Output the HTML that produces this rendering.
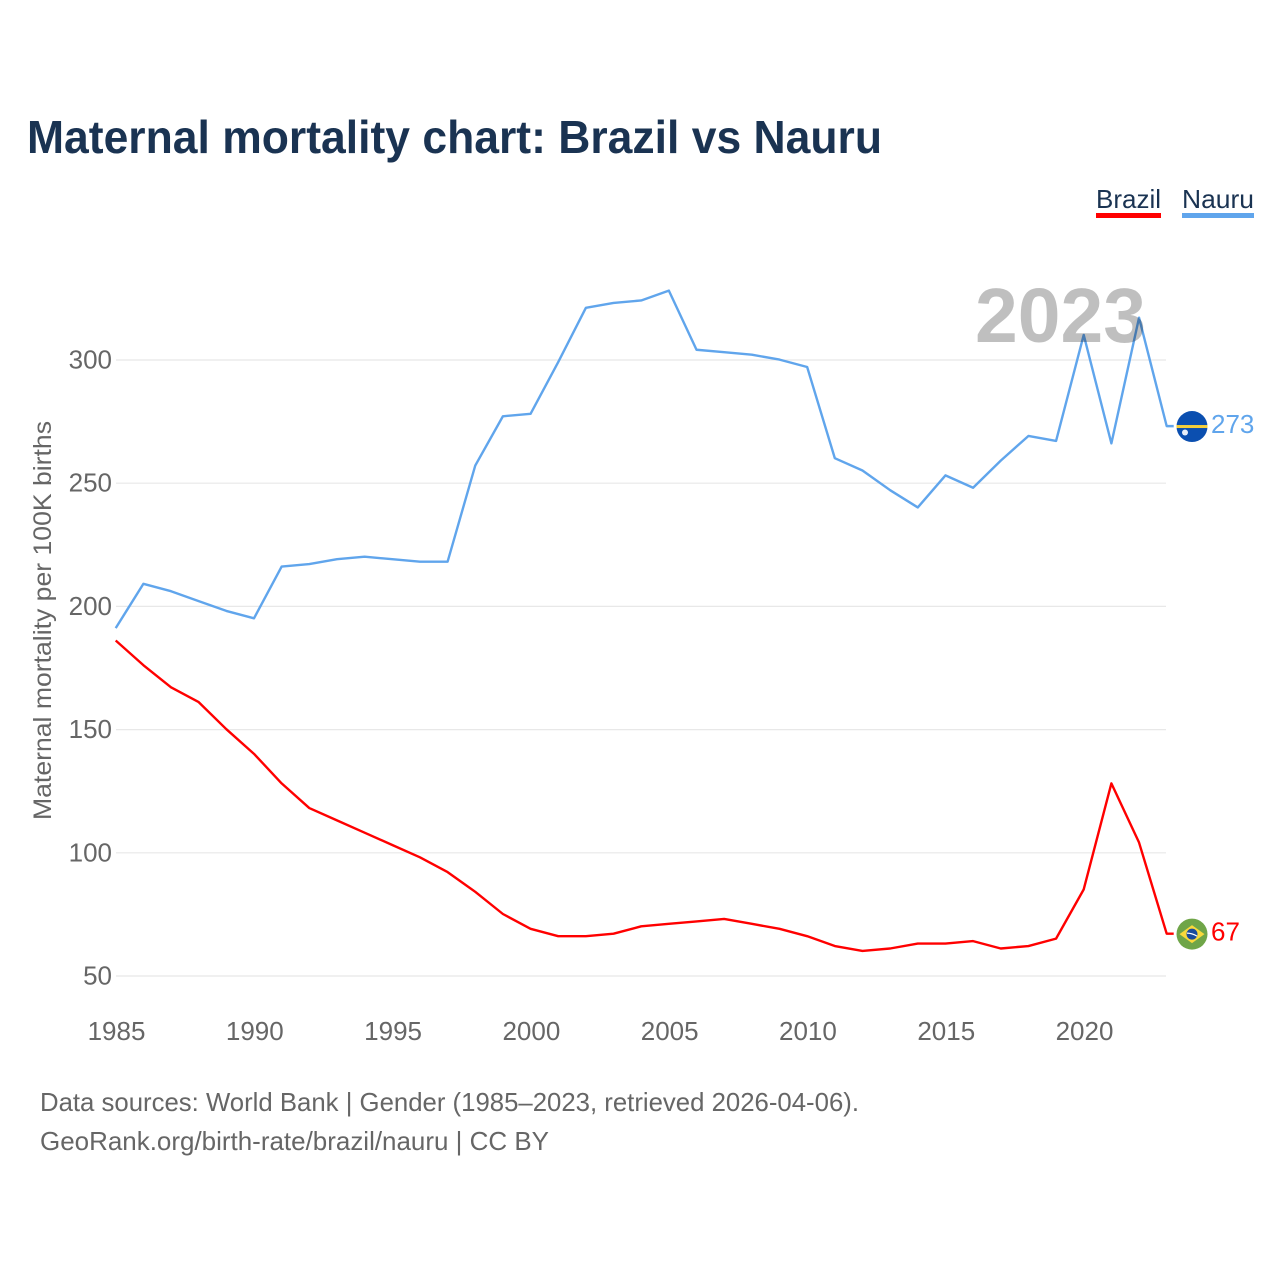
<!DOCTYPE html>
<html>
<head>
<meta charset="utf-8">
<title>Maternal mortality chart: Brazil vs Nauru</title>
<style>
html,body{margin:0;padding:0;background:#fff}
svg{display:block}
text{font-family:"Liberation Sans",sans-serif}
</style>
</head>
<body>
<svg id="chart" width="1280" height="1280" viewBox="0 0 1280 1280" xmlns="http://www.w3.org/2000/svg">
  <rect width="1280" height="1280" fill="#ffffff"/>
  <text x="27" y="153" font-size="46" font-weight="700" fill="#1a3352" textLength="855" lengthAdjust="spacingAndGlyphs">Maternal mortality chart: Brazil vs Nauru</text>

  <text x="1096" y="208" font-size="26" fill="#1a3352" textLength="65" lengthAdjust="spacingAndGlyphs">Brazil</text>
  <rect x="1096" y="213" width="65" height="5" fill="#ff0000"/>
  <text x="1182" y="208" font-size="26" fill="#1a3352" textLength="72" lengthAdjust="spacingAndGlyphs">Nauru</text>
  <rect x="1182" y="213" width="72" height="5" fill="#60a5ec"/>

  <g id="grid"></g>
  <g id="y-axis"></g>
  <g id="x-axis"></g>
  <text transform="translate(51,820) rotate(-90)" font-size="25" fill="#666666" textLength="399" lengthAdjust="spacingAndGlyphs">Maternal mortality per 100K births</text>

  <g id="series" transform="translate(-0.3,-0.4)"></g>

  <text x="975" y="342" font-size="77" font-weight="700" fill="#000000" fill-opacity="0.25" textLength="171" lengthAdjust="spacingAndGlyphs">2023</text>

  <g id="end-markers"></g>

  <text x="40" y="1111" font-size="26" fill="#666666" textLength="819" lengthAdjust="spacingAndGlyphs">Data sources: World Bank | Gender (1985–2023, retrieved 2026-04-06).</text>
  <text x="40" y="1150" font-size="26" fill="#666666" textLength="509" lengthAdjust="spacingAndGlyphs">GeoRank.org/birth-rate/brazil/nauru | CC BY</text>
</svg>
<script>
const years = [1985,1986,1987,1988,1989,1990,1991,1992,1993,1994,1995,1996,1997,1998,1999,2000,2001,2002,2003,2004,2005,2006,2007,2008,2009,2010,2011,2012,2013,2014,2015,2016,2017,2018,2019,2020,2021,2022,2023];
const brazilValues = [186,176,167,161,150,140,128,118,113,108,103,98,92,84,75,69,66,66,67,70,71,72,73,71,69,66,62,60,61,63,63,64,61,62,65,85,128,104,67];
const nauruValues = [191,209,206,202,198,195,216,217,219,220,219,218,218,257,277,278,299,321,323,324,328,304,303,302,300,297,260,255,247,240,253,248,259,269,267,310,266,317,273];
const yTicks = [50,100,150,200,250,300];
const xTicks = [1985,1990,1995,2000,2005,2010,2015,2020];

const NS = 'http://www.w3.org/2000/svg';
const xScale = function (year) { return 116 + (year - 1985) * (1167 - 116) / 38; };
const yScale = function (value) { return 976 - (value - 50) * (976 - 360) / 250; };
const make = function (tag, parent) {
  const el = document.createElementNS(NS, tag);
  parent.appendChild(el);
  return el;
};

const grid = document.getElementById('grid');
const yAxis = document.getElementById('y-axis');
const xAxis = document.getElementById('x-axis');
const series = document.getElementById('series');
const markers = document.getElementById('end-markers');

yTicks.forEach(function (tick) {
  const line = make('line', grid);
  
  
  line.setAttribute('x1', 116);
  line.setAttribute('x2', 1166);
  line.setAttribute('y1', yScale(tick));
  line.setAttribute('y2', yScale(tick));
  line.setAttribute('stroke', '#e8e8e8');
  line.setAttribute('stroke-width', '1.2');

  const label = make('text', yAxis);
  
  
  label.setAttribute('x', 112);
  label.setAttribute('y', yScale(tick) + 8.5);
  label.setAttribute('text-anchor', 'end');
  label.setAttribute('font-size', '26');
  label.setAttribute('fill', '#666666');
  label.textContent = tick;
});

xTicks.forEach(function (tick) {
  const label = make('text', xAxis);
  
  
  label.setAttribute('x', xScale(tick) + 0.5);
  label.setAttribute('y', 1040);
  label.setAttribute('text-anchor', 'middle');
  label.setAttribute('font-size', '26');
  label.setAttribute('fill', '#666666');
  label.textContent = tick;
});

const drawLine = function (name, values, color) {
  const pts = values.map(function (v, i) { return xScale(years[i]) + ',' + yScale(v); });
  const last = values[values.length - 1];
  pts.push((xScale(years[years.length - 1]) + 7) + ',' + yScale(last));
  const line = make('polyline', series);
  
  
  line.setAttribute('points', pts.join(' '));
  line.setAttribute('fill', 'none');
  line.setAttribute('stroke', color);
  line.setAttribute('stroke-width', '2.4');
  line.setAttribute('stroke-linejoin', 'round');
};
drawLine('nauru', nauruValues, '#60a5ec');
drawLine('brazil', brazilValues, '#ff0000');

const flagX = 1192;
const nauruLast = nauruValues[nauruValues.length - 1];
const brazilLast = brazilValues[brazilValues.length - 1];

const nauruFlag = make('g', markers);


nauruFlag.setAttribute('transform', 'translate(' + flagX + ',' + yScale(nauruLast) + ')');
nauruFlag.innerHTML = '<circle r="15.5" fill="#0b4fb0"/><rect x="-15.5" y="-1.5" width="31" height="3" fill="#f5cf3c"/><circle cx="-7" cy="6" r="3" fill="#e8eef8"/>';

const brazilFlag = make('g', markers);


brazilFlag.setAttribute('transform', 'translate(' + flagX + ',' + yScale(brazilLast) + ')');
brazilFlag.innerHTML = '<circle r="15.5" fill="#6fa548"/><polygon points="-12.5,0 0,-9 12.5,0 0,9" fill="#f8d93c"/><circle r="5.5" fill="#1a4a9c"/><path d="M-5,-1 Q0,-1 5,2" stroke="#ffffff" stroke-width="1.2" fill="none"/>';

const nauruLabel = make('text', markers);


nauruLabel.setAttribute('x', 1211);
nauruLabel.setAttribute('y', yScale(nauruLast) + 6.5);
nauruLabel.setAttribute('font-size', '26');
nauruLabel.setAttribute('fill', '#60a5ec');
nauruLabel.textContent = nauruLast;

const brazilLabel = make('text', markers);


brazilLabel.setAttribute('x', 1211);
brazilLabel.setAttribute('y', yScale(brazilLast) + 6.5);
brazilLabel.setAttribute('font-size', '26');
brazilLabel.setAttribute('fill', '#ff0000');
brazilLabel.textContent = brazilLast;
</script>
</body>
</html>
